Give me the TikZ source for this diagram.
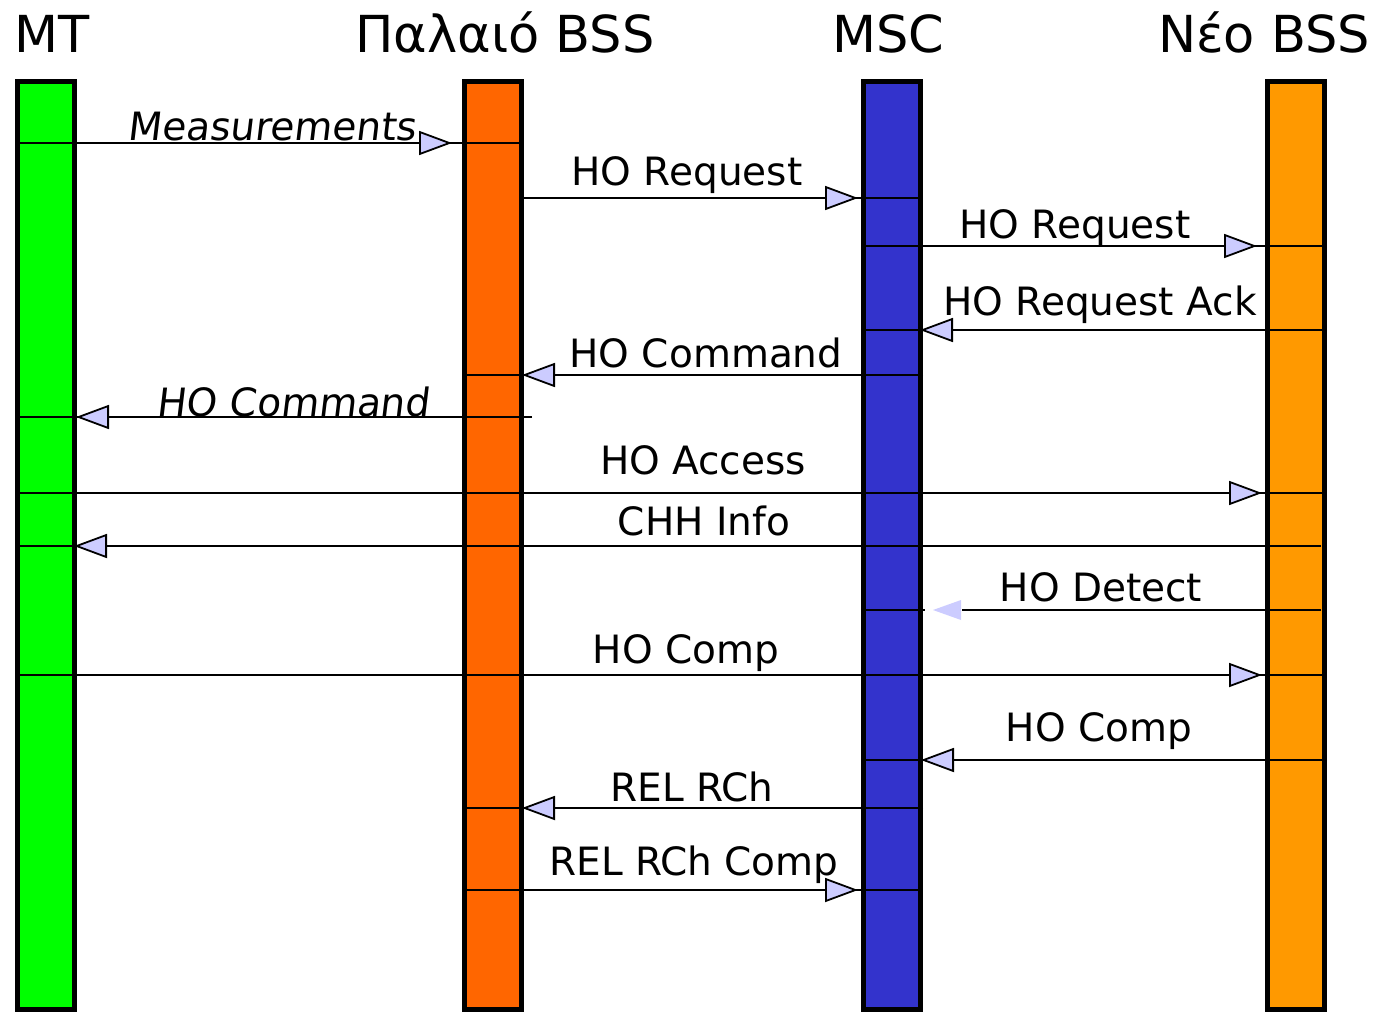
\documentclass[tikz,border=0pt]{standalone}
\usepackage{fontspec}
\setmainfont{DejaVu Sans}
\usetikzlibrary{arrows.meta}
\definecolor{mtgreen}{HTML}{00FF00}
\definecolor{oldbss}{HTML}{FF6600}
\definecolor{mscblue}{HTML}{3333CC}
\definecolor{newbss}{HTML}{FF9900}
\definecolor{tipfill}{HTML}{CCCCFF}
\tikzset{
  entity/.style={draw=black, line width=5pt, rectangle, inner sep=0pt,
    minimum width=57pt, minimum height=928pt},
  title/.style={anchor=base, inner sep=0pt, font=\fontsize{51}{56}\selectfont},
  msglabel/.style={anchor=base, inner sep=0pt, font=\fontsize{39}{44}\selectfont},
  slanted/.style={xslant=0.12},
  wire/.style={draw=black, line width=1.6pt},
  msgarrow/.style={wire, -{Triangle[length=33pt, width=24pt, fill=tipfill, line width=1.8pt]}},
}
\begin{document}
\begin{tikzpicture}[x=1pt, y=-1pt]
\useasboundingbox (0,0) rectangle (1381,1012);

% lifelines
\node[entity, fill=mtgreen] (mt) at (46,545.5) {};
\node[entity, fill=oldbss] (obss) at (493,545.5) {};
\node[entity, fill=mscblue] (msc) at (892,545.5) {};
\node[entity, fill=newbss] (nbss) at (1296,545.5) {};

% headings
\node[title] (tmt) at (52,52) {MT};
\node[title] (tobss) at (505,52) {Παλαιό BSS};
\node[title] (tmsc) at (888,52) {MSC};
\node[title] (tnbss) at (1264,52) {Νέο BSS};

% message rows
\coordinate (r1) at (0,143);
\coordinate (r2) at (0,198);
\coordinate (r3) at (0,246);
\coordinate (r4) at (0,330);
\coordinate (r5) at (0,375);
\coordinate (r6) at (0,417);
\coordinate (r7) at (0,493);
\coordinate (r8) at (0,546);
\coordinate (r9) at (0,610);
\coordinate (r10) at (0,675);
\coordinate (r11) at (0,760);
\coordinate (r12) at (0,808);
\coordinate (r13) at (0,890);
\coordinate (c6) at (532,417);
\coordinate (c8) at (1321,546);
\coordinate (c9) at (1321,610);

% Measurements: MT -> old BSS
\draw[wire] (mt.west |- r1) -- (obss.east |- r1);
\draw[msgarrow, shorten >=10pt] (mt.west |- r1) -- (obss.west |- r1);
% HO Request: old BSS -> MSC
\draw[wire] (obss.east |- r2) -- (msc.east |- r2);
\draw[msgarrow, shorten >=3pt] (obss.east |- r2) -- (msc.west |- r2);
% HO Request: MSC -> new BSS
\draw[wire] (msc.west |- r3) -- (nbss.east |- r3);
\draw[msgarrow, shorten >=8pt] (msc.west |- r3) -- (nbss.west |- r3);
% HO Request Ack: new BSS -> MSC
\draw[wire] (nbss.east |- r4) -- (msc.west |- r4);
\draw[msgarrow, shorten >=-3pt] (nbss.west |- r4) -- (msc.east |- r4);
% HO Command: MSC -> old BSS
\draw[wire] (msc.east |- r5) -- (obss.west |- r5);
\draw[msgarrow, shorten >=-2pt] (msc.west |- r5) -- (obss.east |- r5);
% HO Command: old BSS -> MT
\draw[wire] (c6) -- (mt.west |- r6);
\draw[msgarrow, shorten >=-1pt] (obss.west |- r6) -- (mt.east |- r6);
% HO Access: MT -> new BSS
\draw[wire] (mt.west |- r7) -- (nbss.east |- r7);
\draw[msgarrow, shorten >=3pt] (msc.east |- r7) -- (nbss.west |- r7);
% CHH Info: new BSS -> MT
\draw[wire] (c8) -- (mt.west |- r8);
\draw[msgarrow, shorten >=-3pt] (obss.west |- r8) -- (mt.east |- r8);
% HO Detect: new BSS -> MSC, light tip set apart from the line
\draw[wire] (msc.west |- r9) -- ++(64,0);
\draw[wire, shorten >=39pt] (c9) -- (msc.east |- r9);
\fill[tipfill] ([xshift=10pt]msc.east |- r9) -- ++(28,-10) -- ++(0,20) -- cycle;
% HO Comp: MT -> new BSS
\draw[wire] (mt.west |- r10) -- (nbss.east |- r10);
\draw[msgarrow, shorten >=3pt] (msc.east |- r10) -- (nbss.west |- r10);
% HO Comp: new BSS -> MSC
\draw[wire] (nbss.east |- r11) -- (msc.west |- r11);
\draw[msgarrow, shorten >=-2pt] (nbss.west |- r11) -- (msc.east |- r11);
% REL RCh: MSC -> old BSS
\draw[wire] (msc.east |- r12) -- (obss.west |- r12);
\draw[msgarrow, shorten >=-2pt] (msc.west |- r12) -- (obss.east |- r12);
% REL RCh Comp: old BSS -> MSC
\draw[wire] (obss.west |- r13) -- (msc.east |- r13);
\draw[msgarrow, shorten >=3pt] (obss.east |- r13) -- (msc.west |- r13);

% message labels
\node[msglabel, slanted] (l1) at (272,140) {Measurements};
\node[msglabel] (l2) at (687,185) {HO Request};
\node[msglabel] (l3) at (1075,238) {HO Request};
\node[msglabel] (l4) at (1100,315) {HO Request Ack};
\node[msglabel] (l5) at (706,367) {HO Command};
\node[msglabel, slanted] (l6) at (293,416) {HO Command};
\node[msglabel] (l7) at (703,474) {HO Access};
\node[msglabel] (l8) at (704,535) {CHH Info};
\node[msglabel] (l9) at (1101,601) {HO Detect};
\node[msglabel] (l10) at (686,663) {HO Comp};
\node[msglabel] (l11) at (1099,741) {HO Comp};
\node[msglabel] (l12) at (692,801) {REL RCh};
\node[msglabel] (l13) at (694,875) {REL RCh Comp};
\end{tikzpicture}
\end{document}
